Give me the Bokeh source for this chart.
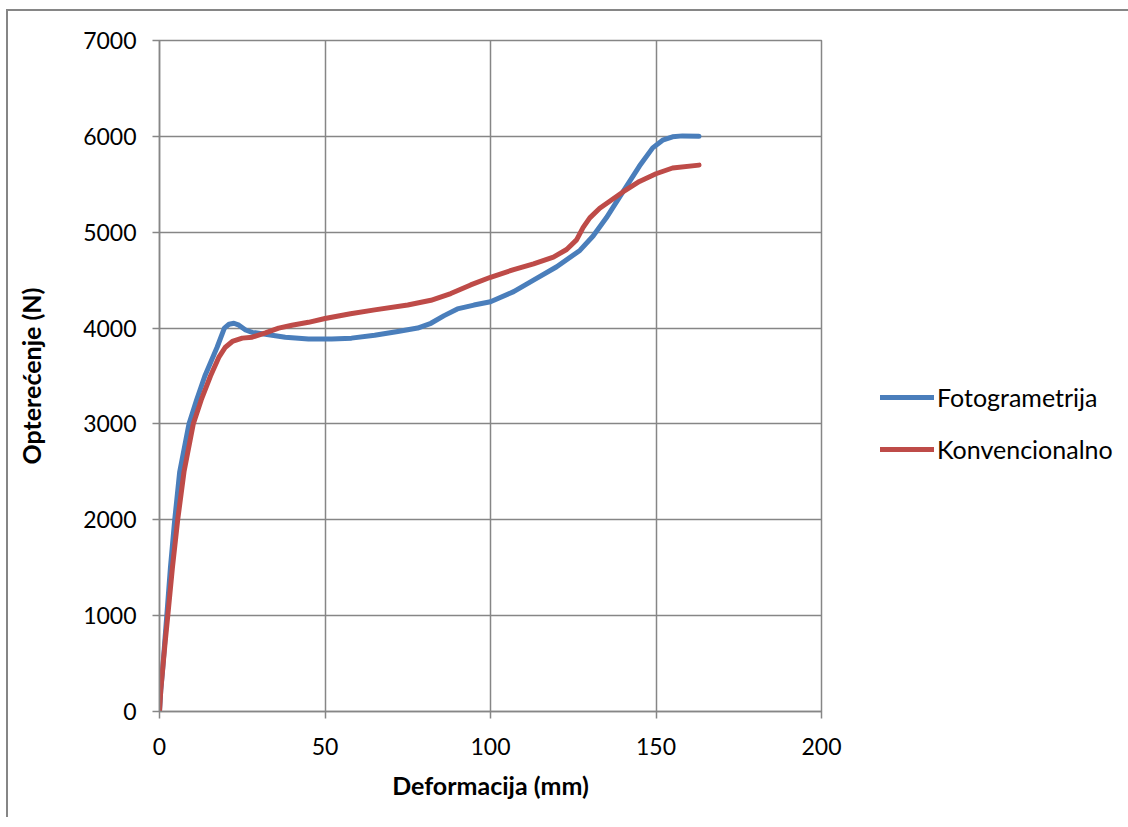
from bokeh.plotting import figure
from bokeh.models import Range1d, FixedTicker, Legend, LegendItem
from bokeh.embed import file_html
from bokeh.resources import INLINE

# Data
foto_x = [0, 0.4, 1.0, 1.6, 2.2, 3.3, 4.6, 6.1, 8.9, 11.2, 13.7, 17.4, 19.6, 21, 22.5, 24, 26, 28, 32, 38, 45, 52,
          58, 65, 72, 78, 82, 86, 90, 95, 100, 107, 113, 120, 127, 131, 135, 140, 145, 149, 152, 155, 158, 163]
foto_y = [0, 230, 460, 730, 1000, 1500, 2000, 2500, 3000, 3250, 3500, 3800, 4000, 4040, 4050, 4030, 3980, 3955,
          3935, 3905, 3885, 3885, 3895, 3925, 3965, 4000, 4050, 4130, 4200, 4240, 4275, 4380, 4500, 4640, 4810,
          4960, 5150, 5420, 5690, 5880, 5960, 5995, 6005, 6000]
konv_x = [0, 0.4, 1.0, 1.7, 2.5, 3.9, 5.5, 7.4, 10.2, 12.6, 15.4, 18, 19.9, 22, 25, 28, 32, 36, 40, 45, 50, 57.7,
          65, 75, 82, 88, 94, 100, 107, 113, 119, 123, 126, 128, 130, 133, 140, 145, 150, 155, 163]
konv_y = [0, 230, 460, 720, 1000, 1500, 2000, 2500, 3000, 3250, 3500, 3700, 3800, 3860, 3895, 3905, 3950, 4000,
          4030, 4060, 4100, 4150, 4190, 4240, 4290, 4360, 4450, 4530, 4610, 4670, 4740, 4820, 4920, 5050, 5150,
          5250, 5420, 5530, 5610, 5670, 5700]
series_names = ["Fotogrametrija", "Konvencionalno"]
x_ticks = [0, 50, 100, 150, 200]
y_ticks = [0, 1000, 2000, 3000, 4000, 5000, 6000, 7000]

FONT = "Lato"
GRID = "#868686"

p = figure(frame_width=662, frame_height=671, output_backend="svg", toolbar_location=None,
           x_range=Range1d(0, 200), y_range=Range1d(0, 7000),
           min_border_left=151, min_border_right=0, min_border_top=29, min_border_bottom=108)
p.margin = (11, 0, 0, 8)
p.styles = {"box-shadow": "-2px -2px 0 0 #868686"}
p.outline_line_color = GRID
p.outline_line_width = 1.5
p.background_fill_color = "white"
p.border_fill_color = "white"

for ax in (p.xaxis[0], p.yaxis[0]):
    ax.axis_line_color = GRID
    ax.axis_line_width = 1.5
    ax.major_tick_line_color = GRID
    ax.major_tick_line_width = 1.5
    ax.major_tick_in = 0
    ax.major_tick_out = 7
    ax.minor_tick_line_color = None
    ax.major_label_text_font = FONT
    ax.major_label_text_font_size = "23px"
    ax.major_label_text_color = "black"
    ax.axis_label_text_font = FONT
    ax.axis_label_text_font_size = "25px"
    ax.axis_label_text_font_style = "bold"
    ax.axis_label_text_color = "black"

p.xaxis.ticker = FixedTicker(ticks=x_ticks)
p.yaxis.ticker = FixedTicker(ticks=y_ticks)
p.xaxis.axis_label = "Deformacija (mm)"
p.yaxis.axis_label = "Opterećenje (N)"
p.xaxis.major_label_standoff = 19
p.yaxis.major_label_standoff = 16
p.xaxis.axis_label_standoff = 12
p.yaxis.axis_label_standoff = 34

p.xgrid.ticker = FixedTicker(ticks=x_ticks)
p.ygrid.ticker = FixedTicker(ticks=y_ticks)
for g in (p.xgrid[0], p.ygrid[0]):
    g.grid_line_color = GRID
    g.grid_line_width = 1.5

r1 = p.line(foto_x, foto_y, line_color="#4A7EBB", line_width=5, line_cap="round", line_join="round")
r2 = p.line(konv_x, konv_y, line_color="#BE4B48", line_width=5, line_cap="round", line_join="round")

legend = Legend(items=[LegendItem(label=series_names[0], renderers=[r1]),
                       LegendItem(label=series_names[1], renderers=[r2])],
                location=(59, 247), orientation="vertical",
                label_text_font=FONT, label_text_font_size="25px", label_text_color="black",
                glyph_width=54, glyph_height=20, label_standoff=3, spacing=22,
                padding=0, margin=0, border_line_color=None, background_fill_alpha=0)
p.add_layout(legend, "right")

open("out.html", "w").write(file_html(p, INLINE))
